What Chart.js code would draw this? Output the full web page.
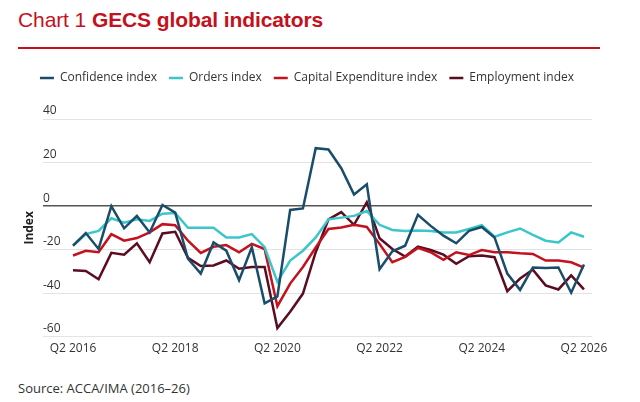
<!DOCTYPE html>
<html>
<head>
<meta charset="utf-8">
<script src="https://cdn.jsdelivr.net/npm/chart.js@4/dist/chart.umd.min.js"></script>
<style>
  html, body { margin: 0; padding: 0; background: #fff; }
  body { width: 640px; height: 402px; position: relative; overflow: hidden; font-family: "Open Sans", sans-serif; }
  #title { position: absolute; left: 18px; top: 8px; font-family: "Liberation Sans", Arial, sans-serif; font-size: 21px; color: #c3111d; white-space: nowrap; letter-spacing: -0.1px; }
  #title b { font-weight: 700; }
  #rule { position: absolute; left: 18px; top: 47px; width: 582px; height: 2px; background: #c3111d; }
  #wrap { position: absolute; left: 0; top: 56px; width: 640px; height: 309px; }
  #source { position: absolute; left: 18px; top: 379px; font-size: 13px; color: #333; white-space: nowrap; }
</style>
</head>
<body>
<div id="title">Chart 1 <b>GECS global indicators</b></div>
<div id="rule"></div>
<div id="wrap"><canvas id="c"></canvas></div>
<div id="source">Source: ACCA/IMA (2016–26)</div>
<script>
const quarters = [
  'Q2 2016','Q3 2016','Q4 2016','Q1 2017','Q2 2017','Q3 2017','Q4 2017','Q1 2018',
  'Q2 2018','Q3 2018','Q4 2018','Q1 2019','Q2 2019','Q3 2019','Q4 2019','Q1 2020',
  'Q2 2020','Q3 2020','Q4 2020','Q1 2021','Q2 2021','Q3 2021','Q4 2021','Q1 2022',
  'Q2 2022','Q3 2022','Q4 2022','Q1 2023','Q2 2023','Q3 2023','Q4 2023','Q1 2024',
  'Q2 2024','Q3 2024','Q4 2024','Q1 2025','Q2 2025','Q3 2025','Q4 2025','Q1 2026',
  'Q2 2026'
];
const tickQuarters = ['Q2 2016','Q2 2018','Q2 2020','Q2 2022','Q2 2024','Q2 2026'];
const yTicks = [40, 20, 0, -20, -40, -60];

const confidence = [
  -18.2,-12.4,-19.7,0,-10.2,-4.5,-12.1,0.5,
  -3,-24.2,-31,-16.7,-20.5,-34,-18.9,-44.7,
  -41.5,-1.8,-1.1,26.6,26,17.4,5.3,10,
  -29,-20.8,-18.2,-4,-9.1,-13.6,-17.1,-11.4,
  -9.6,-14.4,-31,-38.5,-28.2,-28.4,-28.2,-39.8,
  -26.8
];
const orders = [
  -18.2,-12.9,-11.4,-5.6,-7.6,-6.1,-6.8,-3.5,
  -3.2,-10,-10,-10,-14.4,-14.4,-12.9,-18.9,
  -34.8,-25,-20.5,-14.4,-6.1,-5.3,-4.5,-2.3,
  -8.6,-11,-11.4,-11.2,-11.4,-12.1,-12.1,-10.5,
  -8.8,-14.1,-12.1,-10.3,-13.2,-15.9,-16.7,-12.1,
  -14.1
];
const capex = [
  -22.7,-20.5,-21.2,-12.9,-15.9,-14.7,-12.1,-8.3,
  -8.8,-15.9,-21.5,-18.7,-17.9,-21.2,-17.4,-19.7,
  -46,-35.6,-28,-19,-10.5,-9.8,-8.6,-9.6,
  -17.4,-25.8,-23.3,-19.2,-21.2,-24.7,-21.2,-22.5,
  -20.2,-21.2,-21.2,-21.7,-22,-25,-25,-25.8,
  -28.3
];
const employment = [
  -29.5,-29.8,-33.6,-21.5,-22.3,-17.1,-25.8,-12.6,
  -11.8,-23.8,-27.5,-27.3,-25,-28.8,-28,-28,
  -56,-48.5,-40.2,-21.2,-6.1,-2.8,-8.6,1.8,
  -14.8,-19.7,-23.2,-18.6,-20.2,-22.3,-26.5,-23,
  -22.7,-23.5,-39.1,-33.3,-29.2,-36.4,-38.3,-31.8,
  -38.3
];

const seriesNames = ['Confidence index','Orders index','Capital Expenditure index','Employment index'];
const seriesColors = ['#1a4d6b','#3cc6c9','#c3111d','#5b0c20'];
const seriesValues = [confidence, orders, capex, employment];

const datasets = seriesValues.map((vals, k) => ({
  label: seriesNames[k],
  data: vals.map((v, i) => ({ x: i, y: v })),
  borderColor: seriesColors[k],
  backgroundColor: seriesColors[k],
  borderWidth: 2.5,
  pointRadius: 0,
  pointHoverRadius: 0,
  pointStyle: 'line',
  tension: 0,
  borderJoinStyle: 'miter'
}));

const legendSpacer = {
  id: 'legendSpacer',
  beforeInit(chart) {
    const origFit = chart.legend.fit;
    chart.legend.fit = function () {
      origFit.bind(chart.legend)();
      this.height += 25;
    };
  }
};

const textColor = '#333';
const tickFont = { family: '"Open Sans", sans-serif', size: 12 };

new Chart(document.getElementById('c'), {
  type: 'line',
  data: { datasets },
  plugins: [legendSpacer],
  options: {
    responsive: true,
    maintainAspectRatio: false,
    animation: false,
    layout: { padding: { left: 22, right: 48, top: 4, bottom: 0 } },
    plugins: {
      legend: {
        display: true,
        position: 'top',
        labels: {
          usePointStyle: true,
          pointStyleWidth: 14,
          boxHeight: 12,
          padding: 12,
          color: textColor,
          font: { family: '"Open Sans", sans-serif', size: 12 }
        }
      },
      tooltip: { enabled: false }
    },
    scales: {
      x: {
        type: 'linear',
        min: -2.35,
        max: 40.63,
        grid: { display: false, drawTicks: false },
        border: { display: false },
        afterBuildTicks(scale) {
          scale.ticks = tickQuarters.map(q => ({ value: quarters.indexOf(q) }));
        },
        afterFit(scale) { scale.height = 28.3; },
        ticks: {
          autoSkip: false,
          maxRotation: 0,
          padding: 5,
          color: textColor,
          font: tickFont,
          callback: (v) => quarters[v]
        }
      },
      y: {
        min: -60,
        max: 40,
        afterBuildTicks(scale) {
          scale.ticks = yTicks.map(v => ({ value: v }));
        },
        afterFit(scale) { scale.width = 21; },
        grid: {
          drawTicks: false,
          color: (ctx) => ctx.tick && ctx.tick.value === 0 ? '#555' : '#e3e3e3',
          lineWidth: (ctx) => ctx.tick && ctx.tick.value === 0 ? 1.5 : 1
        },
        border: { display: false },
        title: {
          display: true,
          text: 'Index',
          color: '#222',
          padding: 0,
          font: { family: '"Open Sans", sans-serif', size: 12, weight: 'bold' }
        },
        ticks: {
          mirror: true,
          padding: 0,
          labelOffset: -8,
          color: textColor,
          font: tickFont
        }
      }
    }
  }
});
</script>
</body>
</html>
